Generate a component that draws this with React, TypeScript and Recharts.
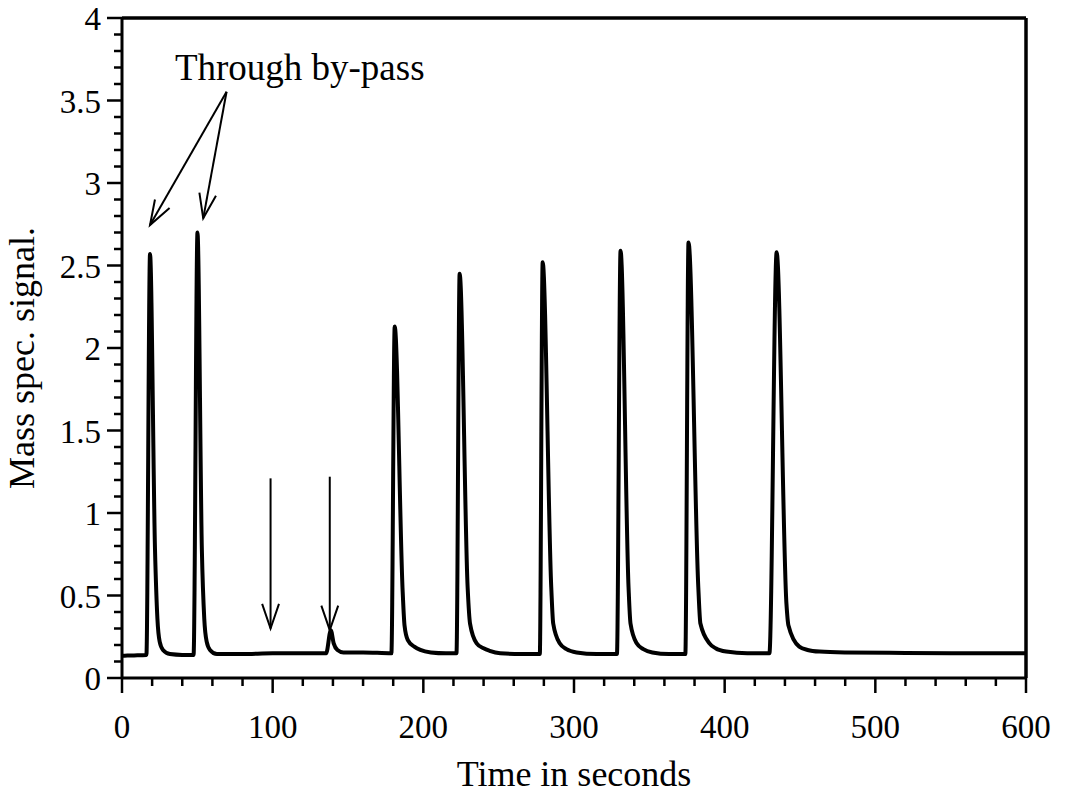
import React from 'react';
import { LineChart, Line, XAxis, YAxis, ReferenceLine, ReferenceDot } from 'recharts';

// time in seconds
const time = [
  0, 8, 16.2, 18.6, 21.9, 23.5, 25, 27.2, 31.8, 40,
  47.5, 50.1, 53.0, 54.6, 56.2, 58.4, 63, 80, 100, 120,
  135.5, 138.6, 140.5, 143, 147, 160, 178.8, 181, 186.3, 187.5,
  189.7, 194, 198, 205, 215, 222, 224.1, 229.4, 231, 235.4,
  240, 244, 251, 265, 277.3, 279.2, 284.9, 286.2, 290.5, 295,
  301.7, 315, 328.5, 330.9, 336.2, 337.5, 341.6, 346, 352, 363,
  373.9, 376, 382.5, 383.9, 389.9, 394, 401, 415, 429.7, 434.5,
  441, 442.3, 449.5, 455, 463, 480, 520, 560, 600,
];

// mass spec. signal
const signal = [
  0.135, 0.137, 0.14, 2.57, 0.78, 0.36, 0.22, 0.17, 0.145, 0.14,
  0.14, 2.70, 0.78, 0.36, 0.22, 0.17, 0.145, 0.145, 0.15, 0.15,
  0.15, 0.29, 0.21, 0.17, 0.155, 0.155, 0.15, 2.13, 0.52, 0.32,
  0.23, 0.19, 0.17, 0.155, 0.15, 0.15, 2.45, 0.55, 0.33, 0.21,
  0.18, 0.165, 0.15, 0.145, 0.145, 2.52, 0.55, 0.33, 0.21, 0.175,
  0.155, 0.145, 0.145, 2.59, 0.55, 0.33, 0.21, 0.175, 0.155, 0.145,
  0.145, 2.64, 0.55, 0.33, 0.21, 0.18, 0.16, 0.15, 0.15, 2.58,
  0.45, 0.32, 0.19, 0.17, 0.16, 0.155, 0.152, 0.15, 0.15,
];

const xTicks = Array.from({ length: 31 }, (_, i) => i * 20);
const yTicks = Array.from({ length: 41 }, (_, i) => i / 10);

const annotationText = 'Through by-pass';
const annotationAt = { t: 35.1, v: 3.624 };

const arrowFromT = [69.4, 69.4, 98.6, 137.9];
const arrowFromV = [3.553, 3.553, 1.21, 1.22];
const arrowToT = [18.6, 53.9, 98.6, 137.9];
const arrowToV = [2.745, 2.786, 0.3, 0.29];

const data = time.map((t, i) => ({ t, v: signal[i] }));

const FONT = 'Liberation Serif';

const XTick = (props: any) => {
  const { x, y, payload } = props;
  const v = payload.value;
  const major = Math.round(v) % 100 === 0;
  return (
    <g>
      <line x1={x} x2={x} y1={y} y2={y + (major ? 15 : 8)} stroke="#000" strokeWidth={2.5} />
      {major && (
        <text x={x} y={y + 60} textAnchor="middle" fontFamily={FONT} fontSize={33} fill="#000">
          {String(v)}
        </text>
      )}
    </g>
  );
};

const YTick = (props: any) => {
  const { x, y, payload } = props;
  const v = payload.value;
  const major = Math.round(v * 10) % 5 === 0;
  return (
    <g>
      <line x1={x} x2={x - (major ? 15 : 8)} y1={y} y2={y} stroke="#000" strokeWidth={2.5} />
      {major && (
        <text x={x - 21} y={y + 12} textAnchor="end" fontFamily={FONT} fontSize={33} fill="#000">
          {String(v)}
        </text>
      )}
    </g>
  );
};

const XTitle = (props: any) => {
  const vb = props.viewBox || { x: 122, y: 678, width: 904, height: 121 };
  return (
    <text x={vb.x + vb.width / 2} y={vb.y + 108} textAnchor="middle" fontFamily={FONT} fontSize={36} fill="#000">
      Time in seconds
    </text>
  );
};

const YTitle = (props: any) => {
  const vb = props.viewBox || { x: 0, y: 18, width: 122, height: 660 };
  const cx = vb.x + 34;
  const cy = vb.y + 340;
  return (
    <text x={cx} y={cy} transform={`rotate(-90, ${cx}, ${cy})`} textAnchor="middle" fontFamily={FONT} fontSize={36} fill="#000">
      Mass spec. signal.
    </text>
  );
};

const ArrowShape = (props: any) => {
  const { x1, y1, x2, y2 } = props;
  const ang = Math.atan2(y1 - y2, x1 - x2);
  const L = 26;
  const h = 0.33;
  const ax = x2 + L * Math.cos(ang + h);
  const ay = y2 + L * Math.sin(ang + h);
  const bx = x2 + L * Math.cos(ang - h);
  const by = y2 + L * Math.sin(ang - h);
  return (
    <g>
      <line x1={x1} y1={y1} x2={x2} y2={y2} stroke="#000" strokeWidth={2} />
      <polyline points={`${ax},${ay} ${x2},${y2} ${bx},${by}`} fill="none" stroke="#000" strokeWidth={2} />
    </g>
  );
};

const TextShape = (props: any) => {
  const { cx, cy } = props;
  return (
    <text x={cx} y={cy} fontFamily={FONT} fontSize={37} fill="#000">
      {annotationText}
    </text>
  );
};

export default function App() {
  return (
    <div style={{ position: 'absolute', left: 0, top: 0, background: '#fff' }}>
      <LineChart width={1071} height={799} data={data} margin={{ top: 18, right: 45, bottom: 0, left: 0 }}>
        <XAxis
          dataKey="t"
          type="number"
          domain={[0, 600]}
          ticks={xTicks}
          interval={0}
          tick={<XTick />}
          tickLine={false}
          tickSize={0}
          tickMargin={0}
          axisLine={{ stroke: '#000', strokeWidth: 3 }}
          height={121}
          label={XTitle}
        />
        <YAxis
          type="number"
          domain={[0, 4]}
          ticks={yTicks}
          interval={0}
          tick={<YTick />}
          tickLine={false}
          tickSize={0}
          tickMargin={0}
          axisLine={{ stroke: '#000', strokeWidth: 3 }}
          width={122}
          label={YTitle}
        />
        <ReferenceLine y={4} stroke="#000" strokeWidth={3.5} />
        <ReferenceLine x={600} stroke="#000" strokeWidth={3.5} />
        {arrowFromT.map((t, i) => (
          <ReferenceLine
            key={i}
            segment={[{ x: t, y: arrowFromV[i] }, { x: arrowToT[i], y: arrowToV[i] }]}
            shape={ArrowShape}
          />
        ))}
        <ReferenceDot x={annotationAt.t} y={annotationAt.v} r={0} shape={TextShape} />
        <Line
          type="monotone"
          dataKey="v"
          stroke="#000"
          strokeWidth={4}
          strokeLinejoin="round"
          dot={false}
          activeDot={false}
          isAnimationActive={false}
        />
      </LineChart>
    </div>
  );
}
